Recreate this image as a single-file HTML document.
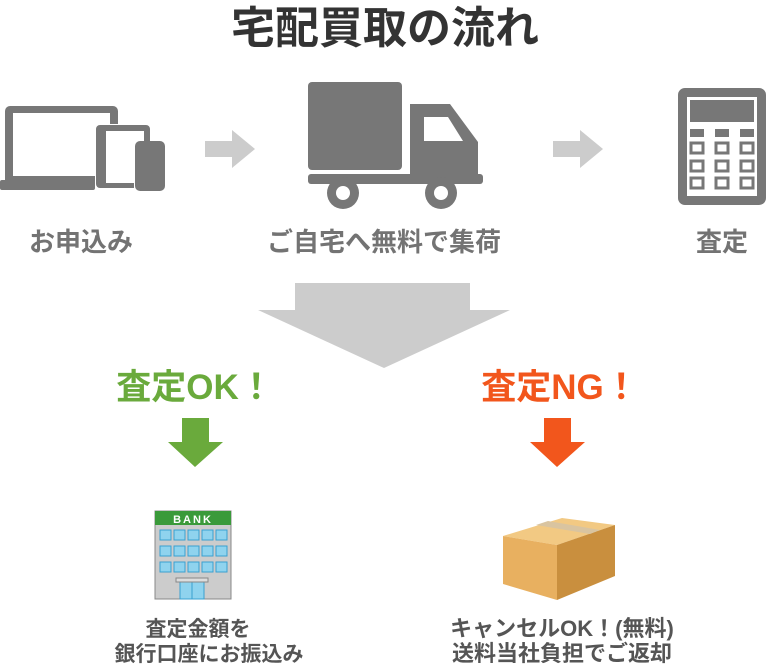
<!DOCTYPE html>
<html><head><meta charset="utf-8"><style>
html,body{margin:0;padding:0;background:#fff;}
svg{display:block;}
text{font-family:"Liberation Sans","Noto Sans CJK JP",sans-serif;font-weight:bold;}
</style></head><body>
<svg width="768" height="664" viewBox="0 0 768 664" xmlns="http://www.w3.org/2000/svg">
<text x="385" y="43" font-size="44" fill="#333" text-anchor="middle">宅配買取の流れ</text>
<!-- devices -->
<g fill="#777">
<path d="M10 106h103a5 5 0 0 1 5 5v13h-8v-11H13v63h82v8H5V111a5 5 0 0 1 5-5z"/>
<rect x="0" y="180" width="95" height="10" rx="2"/>
<path d="M100 125h46a4 4 0 0 1 4 4v14h-6v-12h-38v52h28v5H100a4 4 0 0 1-4-4V129a4 4 0 0 1 4-4z"/>
<rect x="135" y="141" width="30" height="50" rx="5"/>
</g>
<polygon points="205,141 232,141 232,130 255,149 232,168 232,157 205,157" fill="#ccc"/>
<!-- truck -->
<g fill="#777">
<rect x="308" y="82" width="94" height="88" rx="4"/>
<path d="M410 104h40l28 38v42h-68z"/>
<rect x="308" y="174" width="175" height="10" rx="3"/>
<circle cx="343" cy="193" r="16"/>
<circle cx="441" cy="193" r="16"/>
</g>
<path d="M424 117h24l15 24h-39z" fill="#fff"/>
<circle cx="343" cy="193" r="7" fill="#fff"/>
<circle cx="441" cy="193" r="7" fill="#fff"/>
<polygon points="553,141 580,141 580,130 603,149 580,168 580,157 553,157" fill="#ccc"/>
<!-- calculator -->
<rect x="678" y="88" width="88" height="117" rx="7" fill="#777"/>
<rect x="687" y="97" width="70" height="99" fill="#fff"/>
<rect x="690" y="100" width="64" height="22" fill="#777"/>
<g fill="#777">
<rect x="690" y="129" width="14" height="8"/><rect x="715" y="129" width="14" height="8"/><rect x="740" y="129" width="14" height="8"/>
</g>
<g fill="none" stroke="#777" stroke-width="3">
<rect x="691" y="143" width="12" height="10"/><rect x="716" y="143" width="12" height="10"/><rect x="741" y="143" width="12" height="10"/>
<rect x="691" y="161" width="12" height="10"/><rect x="716" y="161" width="12" height="10"/><rect x="741" y="161" width="12" height="10"/>
<rect x="691" y="178" width="12" height="10"/><rect x="716" y="178" width="12" height="10"/><rect x="741" y="178" width="12" height="10"/>
</g>
<g font-size="26" fill="#737373" text-anchor="middle">
<text x="81" y="251">お申込み</text>
<text x="384" y="251">ご自宅へ無料で集荷</text>
<text x="722" y="251">査定</text>
</g>
<!-- big arrow -->
<polygon points="295,283 470,283 470,310 510,310 384,368 258,310 295,310" fill="#ccc"/>
<text x="195" y="399" font-size="35" fill="#6aaa3c" text-anchor="middle">査定OK！</text>
<text x="560" y="399" font-size="35" fill="#f2561c" text-anchor="middle">査定NG！</text>
<polygon points="182,418 209,418 209,442 223,442 195,467 168,442 182,442" fill="#6aaa3c"/>
<polygon points="544,418 571,418 571,442 585,442 557,467 530,442 544,442" fill="#f2561c"/>
<!-- bank -->
<rect x="155" y="511" width="76" height="88" fill="#ccc" stroke="#888" stroke-width="1"/>
<rect x="155" y="511" width="76" height="14" fill="#3a9a3a"/>
<text x="193" y="523" font-size="11" fill="#fff" text-anchor="middle" letter-spacing="2">BANK</text>
<g fill="#8fd3ee" stroke="#3aa0d0" stroke-width="1">
<rect x="160" y="530" width="11" height="10"/><rect x="174" y="530" width="11" height="10"/><rect x="188" y="530" width="11" height="10"/><rect x="202" y="530" width="11" height="10"/><rect x="216" y="530" width="11" height="10"/>
<rect x="160" y="546" width="11" height="10"/><rect x="174" y="546" width="11" height="10"/><rect x="188" y="546" width="11" height="10"/><rect x="202" y="546" width="11" height="10"/><rect x="216" y="546" width="11" height="10"/>
<rect x="160" y="562" width="11" height="10"/><rect x="174" y="562" width="11" height="10"/><rect x="188" y="562" width="11" height="10"/><rect x="202" y="562" width="11" height="10"/><rect x="216" y="562" width="11" height="10"/>
<rect x="180" y="582" width="12" height="17"/><rect x="192" y="582" width="12" height="17"/>
</g>
<rect x="176" y="578" width="32" height="4" fill="#ddd" stroke="#888"/>
<!-- box -->
<polygon points="503,536 562,518 615,525 557,545" fill="#f2c983"/>
<polygon points="503,536 557,545 557,600 503,584" fill="#e8b060"/>
<polygon points="557,545 615,525 615,576 557,600" fill="#c98f3e"/>
<polygon points="536,525 548,521 600,530 590,534" fill="#d9c4a0"/>
<g font-size="21" fill="#555" text-anchor="middle">
<text x="198" y="636">査定金額を</text>
<text x="209" y="661">銀行口座にお振込み</text>
</g>
<g font-size="22" fill="#555" text-anchor="middle">
<text x="562" y="636">キャンセルOK！(無料)</text>
<text x="562" y="661">送料当社負担でご返却</text>
</g>
</svg>
</body></html>
